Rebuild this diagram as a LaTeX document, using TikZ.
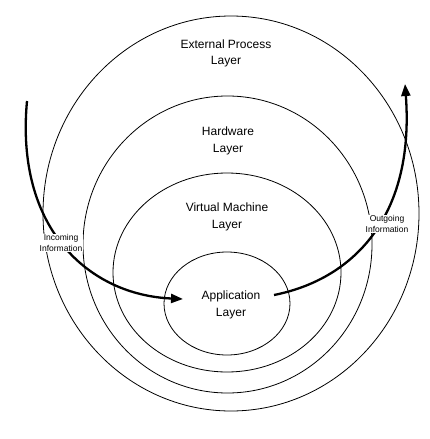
\documentclass[tikz,border=0pt]{standalone}
\usepackage{fontspec}
\setmainfont{Liberation Sans}
\usetikzlibrary{shapes.geometric,arrows.meta}
\tikzset{
  layer/.style={draw, ellipse, line width=0.8pt, inner sep=0pt},
  layertext/.style={align=center, font=\fontsize{12}{16.5}\selectfont, inner sep=0pt},
  infotext/.style={align=center, fill=white, font=\fontsize{8.5}{10.5}\selectfont, inner sep=1pt},
  flow/.style={line width=2.3pt, -{Triangle[length=12pt,width=9pt]}}
}
\begin{document}
\begin{tikzpicture}[x=1pt,y=-1pt]
\useasboundingbox (0,0) rectangle (429,439);
\node[layer, minimum width=376pt, minimum height=395pt] (ext) at (231,213.5) {};
\node[layer, minimum width=289pt, minimum height=297pt] (hw) at (227.5,244.5) {};
\node[layer, minimum width=228pt, minimum height=199pt] (vm) at (227,272.5) {};
\node[layer, minimum width=126pt, minimum height=103pt] (app) at (227,303.5) {};
\node[layertext] (extt) at (226,53.5) {External Process\\Layer};
\node[layertext] (hwt) at (228,141) {Hardware\\Layer};
\node[layertext] (vmt) at (227,217) {Virtual Machine\\Layer};
\node[layertext] (appt) at (231,305) {Application\\Layer};
\coordinate (inStart) at (27,101);
\coordinate (inEnd) at (183,299);
\coordinate (outStart) at (274,295);
\coordinate (outEnd) at (405,84);
\draw[flow] (inStart) .. controls (15,230) and (90,295) .. (inEnd);
\draw[flow] (outStart) .. controls (350,280) and (415,220) .. (outEnd);
\node[infotext] (inc) at (61,243) {Incoming\\Information};
\node[infotext] (out) at (387,224) {Outgoing\\Information};
\end{tikzpicture}
\end{document}
